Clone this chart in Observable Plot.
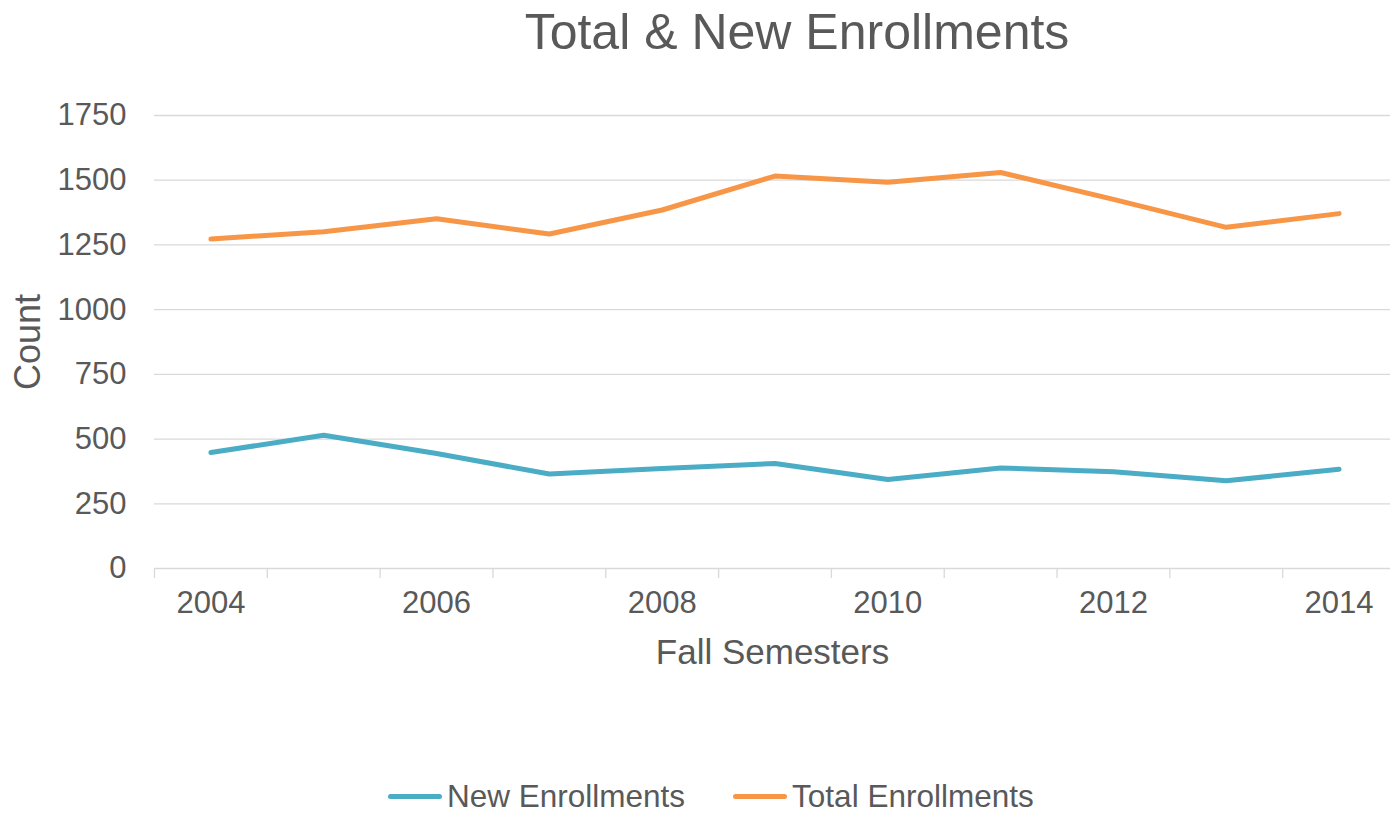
<!DOCTYPE html>
<html>
<head>
<meta charset="utf-8">
<script src="https://cdn.jsdelivr.net/npm/d3@7"></script>
<script src="https://cdn.jsdelivr.net/npm/@observablehq/plot@0.6"></script>
<style>
  html, body { margin: 0; padding: 0; background: #ffffff; overflow: hidden; }
  #wrap { position: relative; width: 1390px; height: 815px; font-family: "Liberation Sans", Arial, sans-serif; color: #595959; }
  #title { position: absolute; top: 7px; left: 397px; width: 800px; text-align: center; font-size: 50px; line-height: 50px; white-space: nowrap; }
  #chart { position: absolute; top: 70px; left: 0; }
  #legend { position: absolute; top: 782px; left: 388px; display: flex; align-items: center; font-size: 31.5px; line-height: 28px; white-space: nowrap; }
  .sw { display: inline-block; width: 54px; height: 5px; border-radius: 3px; margin-right: 5px; }
  .item { display: flex; align-items: center; }
  .item + .item { margin-left: 48px; }
</style>
</head>
<body>
<div id="wrap">
  <div id="title"></div>
  <div id="chart"></div>
  <div id="legend"></div>
</div>
<script>
const titleText = "Total & New Enrollments";
const xLabel = "Fall Semesters";
const yLabel = "Count";
const years = [2004, 2005, 2006, 2007, 2008, 2009, 2010, 2011, 2012, 2013, 2014];
const newEnrollments = [448, 515, 444, 365, 386, 406, 344, 388, 374, 339, 383];
const totalEnrollments = [1273, 1301, 1351, 1292, 1385, 1516, 1492, 1530, 1426, 1318, 1371];
const yTicks = [0, 250, 500, 750, 1000, 1250, 1500, 1750];
const xTickLabels = [2004, 2006, 2008, 2010, 2012, 2014];
const seriesNames = ["New Enrollments", "Total Enrollments"];
const seriesColors = ["#4BACC6", "#F79646"];

const data = years.flatMap((yr, i) => [
  {year: yr, value: newEnrollments[i], series: seriesNames[0]},
  {year: yr, value: totalEnrollments[i], series: seriesNames[1]}
]);
const boundaries = years.map(y => y - 0.5);

document.getElementById("title").textContent = titleText;

const chart = Plot.plot({
  width: 1390,
  height: 620,
  marginTop: 45,
  marginBottom: 122,
  marginLeft: 154,
  marginRight: 0,
  style: {fontFamily: "'Liberation Sans', Arial, sans-serif", fontSize: "31px", color: "#595959", background: "#ffffff", overflow: "visible"},
  x: {type: "linear", domain: [2003.5, 2014.5], range: [154, 1395]},
  y: {domain: [0, 1750]},
  color: {domain: seriesNames, range: seriesColors},
  marks: [
    Plot.ruleY(yTicks, {stroke: "#d9d9d9", strokeWidth: 1.3}),
    Plot.axisY(yTicks, {tickSize: 0, tickPadding: 28, label: null, tickFormat: d => String(d), fill: "#595959", fontSize: 31}),
    Plot.axisX(boundaries, {tickSize: 10, tickFormat: () => "", stroke: "#d9d9d9", strokeWidth: 1.3, label: null}),
    Plot.axisX(xTickLabels, {tickSize: 0, tickPadding: 22, tickFormat: d => String(d), label: null, fill: "#595959", fontSize: 31}),
    Plot.lineY(data, {x: "year", y: "value", stroke: "series", z: "series", strokeWidth: 5, strokeLinecap: "round", strokeLinejoin: "round"}),
    Plot.text([yLabel], {text: d => d, frameAnchor: "left", textAnchor: "middle", lineAnchor: "middle", dx: -126, rotate: -90, fontSize: 36, fill: "#595959"}),
    Plot.text([xLabel], {text: d => d, frameAnchor: "bottom", textAnchor: "middle", lineAnchor: "middle", dy: 84, fontSize: 35, fill: "#595959"})
  ]
});
document.getElementById("chart").appendChild(chart);

const legend = document.getElementById("legend");
seriesNames.forEach((name, i) => {
  const item = document.createElement("div");
  item.className = "item";
  const sw = document.createElement("span");
  sw.className = "sw";
  sw.style.background = seriesColors[i];
  const label = document.createElement("span");
  label.textContent = name;
  item.appendChild(sw);
  item.appendChild(label);
  legend.appendChild(item);
});
</script>
</body>
</html>
